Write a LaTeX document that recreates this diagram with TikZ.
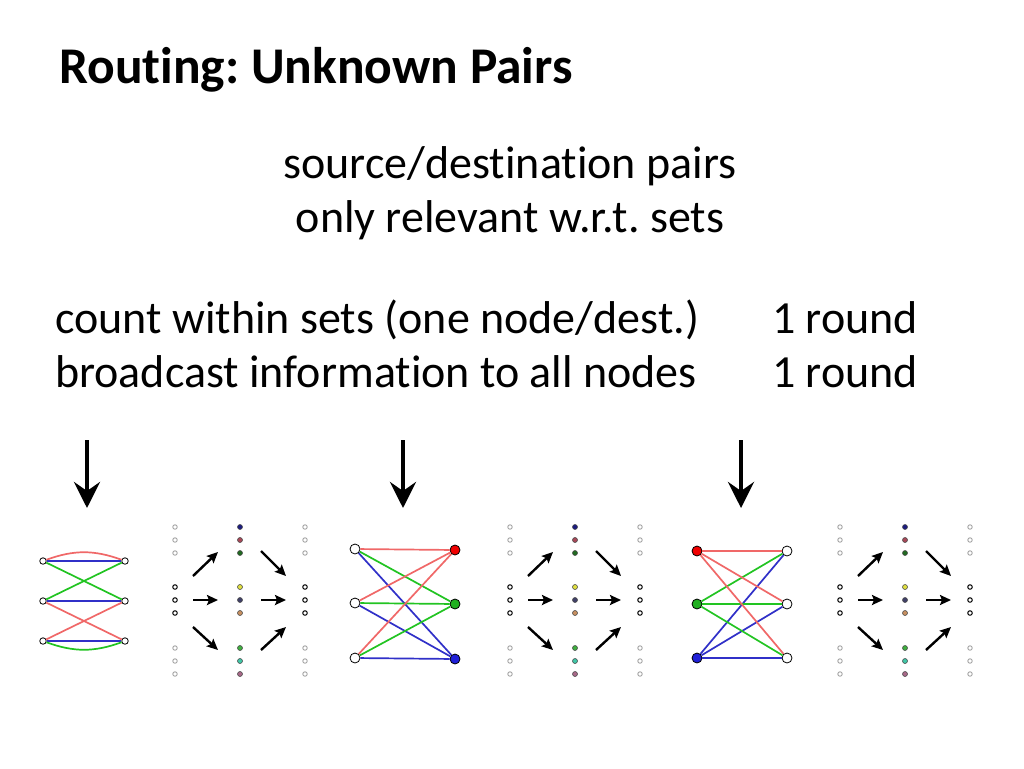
\documentclass[tikz,border=0pt]{standalone}
\usepackage{fontspec}
\setmainfont{Carlito}[Ligatures={NoCommon,NoRequired,NoContextual}]
\usetikzlibrary{arrows.meta}
\frenchspacing
\definecolor{ered}{HTML}{F06868}
\definecolor{egreen}{HTML}{22C422}
\definecolor{eblue}{HTML}{3030C8}
\definecolor{nred}{HTML}{F00000}
\definecolor{ngreen}{HTML}{20B020}
\definecolor{nblue}{HTML}{2020D8}
\definecolor{gray1}{HTML}{9A9A9A}
\definecolor{d1}{HTML}{1C1C80}
\definecolor{d2}{HTML}{A84858}
\definecolor{d3}{HTML}{206A20}
\definecolor{d4}{HTML}{E0E040}
\definecolor{d5}{HTML}{404068}
\definecolor{d6}{HTML}{C89060}
\definecolor{d7}{HTML}{40B040}
\definecolor{d8}{HTML}{40C8A8}
\definecolor{d9}{HTML}{A86888}
\tikzset{
  bodytext/.style={font=\fontsize{46}{54}\selectfont, inner sep=0pt},
  smallnode/.style={circle, draw=black, fill=white, line width=0.8pt, minimum size=6.5pt, inner sep=0pt},
  bignode/.style={circle, draw=black, fill=#1, line width=0.8pt, minimum size=10pt, inner sep=0pt},
  edge/.style={line width=1.7pt, draw=#1},
  greydot/.style={circle, draw=gray1, fill=white, line width=0.8pt, minimum size=4.5pt, inner sep=0pt},
  blackdot/.style={circle, draw=black, fill=white, line width=1pt, minimum size=4.5pt, inner sep=0pt},
  coldot/.style={circle, draw=black!70, fill=#1, line width=0.6pt, minimum size=5pt, inner sep=0pt},
  gridarrow/.style={line width=2.4pt, -{Stealth[length=11pt,width=10pt,inset=2pt]}},
  bigarrow/.style={line width=4.5pt, -{Stealth[length=26pt,width=26pt,inset=9pt]}},
}
\newcommand\drawgrid[2]{%
  \foreach \y [count=\i] in {527,540,553,648,661,674} {
    \node[greydot] (#1l\i) at (#2,\y) {};
    \node[greydot] (#1r\i) at (#2+130,\y) {};
  }
  \foreach \y [count=\i] in {587,600,613} {
    \node[blackdot] (#1ml\i) at (#2,\y) {};
    \node[blackdot] (#1mr\i) at (#2+130,\y) {};
  }
  \foreach \y/\c [count=\i] in {527/d1,540/d2,553/d3,587/d4,600/d5,613/d6,648/d7,661/d8,674/d9} {
    \node[coldot=\c] (#1c\i) at (#2+65,\y) {};
  }
  \coordinate (#1a1s) at (#2+18,576); \coordinate (#1a1e) at (#2+43,552);
  \coordinate (#1a2s) at (#2+18,600); \coordinate (#1a2e) at (#2+43,600);
  \coordinate (#1a3s) at (#2+18,627); \coordinate (#1a3e) at (#2+43,650);
  \coordinate (#1b1s) at (#2+86,551); \coordinate (#1b1e) at (#2+111,576);
  \coordinate (#1b2s) at (#2+86,600); \coordinate (#1b2e) at (#2+111,600);
  \coordinate (#1b3s) at (#2+86,650); \coordinate (#1b3e) at (#2+111,627);
  \foreach \k in {a1,a2,a3,b1,b2,b3} { \draw[gridarrow] (#1\k s) -- (#1\k e); }
}
\begin{document}
\begin{tikzpicture}[x=1pt,y=-1pt]
\useasboundingbox[fill=white] (0,0) rectangle (1024,768);

% title and texts
\node[anchor=base west, inner sep=0pt, font=\fontsize{51.5}{60}\selectfont\bfseries] (title) at (59,83) {Routing: Unknown Pairs};
\node[bodytext, anchor=base] (src) at (510,178) {source/destination pairs};
\node[bodytext, anchor=base] (rel) at (510,232) {only relevant w.r.t. sets};
\node[bodytext, anchor=base west] (cnt) at (55,333) {count within sets (one node/dest.)};
\node[bodytext, anchor=base west] (bc) at (55,387) {broadcast information to all nodes};
\node[bodytext, anchor=base west] (r1) at (772,333) {1 round};
\node[bodytext, anchor=base west] (r2) at (772,387) {1 round};

% big arrows
\foreach \x [count=\i] in {87,403,741} {
  \coordinate (ba\i s) at (\x,440);
  \coordinate (ba\i e) at (\x,508);
  \draw[bigarrow] (ba\i s) -- (ba\i e);
}

% left graph
\node[smallnode] (a1) at (43,561) {};
\node[smallnode] (a2) at (43,601) {};
\node[smallnode] (a3) at (43,641) {};
\node[smallnode] (b1) at (125,561) {};
\node[smallnode] (b2) at (125,601) {};
\node[smallnode] (b3) at (125,641) {};
\draw[edge=ered] (a1) to[bend left=20] (b1);
\draw[edge=eblue] (a1) -- (b1);
\draw[edge=egreen] (a1) -- (b2);
\draw[edge=egreen] (a2) -- (b1);
\draw[edge=eblue] (a2) -- (b2);
\draw[edge=ered] (a2) -- (b3);
\draw[edge=ered] (a3) -- (b2);
\draw[edge=eblue] (a3) -- (b3);
\draw[edge=egreen] (a3) to[bend right=20] (b3);

% grids
\drawgrid{ga}{175}
\drawgrid{gb}{510}
\drawgrid{gc}{840}

% middle graph
\node[bignode=white] (m1) at (355,549) {};
\node[bignode=white] (m2) at (355,603) {};
\node[bignode=white] (m3) at (355,658) {};
\node[bignode=nred] (n1) at (455,550) {};
\node[bignode=ngreen] (n2) at (455,604) {};
\node[bignode=nblue] (n3) at (455,659) {};
\foreach \i in {1,2,3} {
  \draw[edge=ered] (m\i) -- (n1);
  \draw[edge=egreen] (m\i) -- (n2);
  \draw[edge=eblue] (m\i) -- (n3);
}

% right graph
\node[bignode=nred] (p1) at (697,551) {};
\node[bignode=ngreen] (p2) at (697,604) {};
\node[bignode=nblue] (p3) at (697,658) {};
\node[bignode=white] (q1) at (787,551) {};
\node[bignode=white] (q2) at (787,604) {};
\node[bignode=white] (q3) at (787,658) {};
\foreach \i in {1,2,3} {
  \draw[edge=ered] (p1) -- (q\i);
  \draw[edge=egreen] (p2) -- (q\i);
  \draw[edge=eblue] (p3) -- (q\i);
}
\end{tikzpicture}
\end{document}
